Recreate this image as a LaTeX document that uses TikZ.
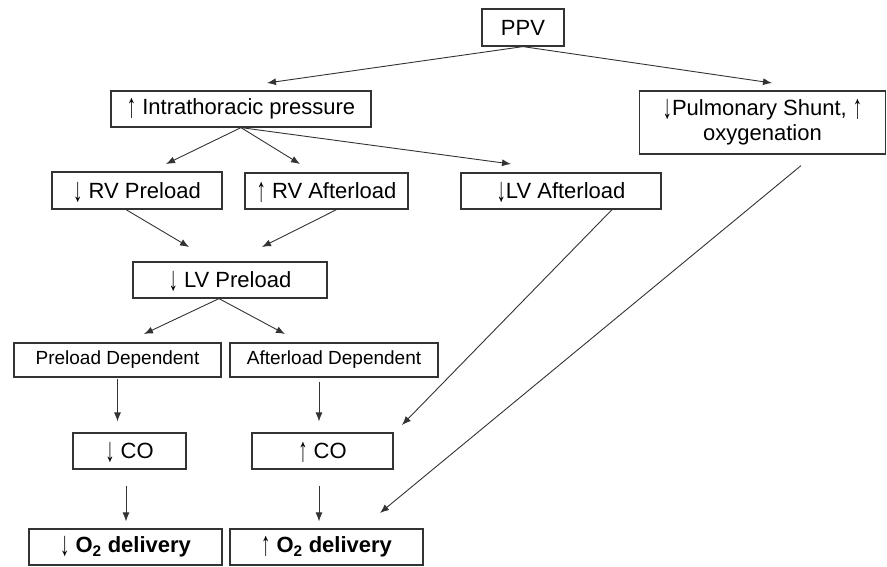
\documentclass[tikz,border=0pt]{standalone}
\usepackage{fontspec}
\setmainfont{Liberation Sans}
\usetikzlibrary{arrows.meta}
\newcommand{\uarr}{\smash{\raisebox{-3pt}{\scalebox{0.85}[1.55]{↑}}}}
\newcommand{\darr}{\smash{\raisebox{-3pt}{\scalebox{0.85}[1.55]{↓}}}}
\tikzset{
	box/.style={draw=black!80, line width=1.2pt, inner sep=0pt, align=center, font=\fontsize{22}{25}\selectfont},
	smallbox/.style={box, font=\fontsize{19}{22}\selectfont},
	flow/.style={draw=black!80, line width=0.9pt, -{Latex[length=9pt,width=7pt]}}
}
\begin{document}
\begin{tikzpicture}[x=1pt, y=-1pt]
	\useasboundingbox (0,0) rectangle (887,566);
	% boxes
	\node[box, minimum width=82, minimum height=37] (ppv) at (523,27.5) {PPV};
	\node[box, minimum width=260, minimum height=36] (itp) at (241,109) {\uarr\ Intrathoracic pressure};
	\node[box, minimum width=246, minimum height=63] (shunt) at (762.5,122.5) {\darr Pulmonary Shunt, \uarr\\oxygenation};
	\node[box, minimum width=170, minimum height=37] (rvpre) at (137,190.5) {\darr\ RV Preload};
	\node[box, minimum width=163, minimum height=36] (rvaft) at (326.5,191) {\uarr\ RV Afterload};
	\node[box, minimum width=200, minimum height=36] (lvaft) at (561,191) {\darr LV Afterload};
	\node[box, minimum width=194, minimum height=36] (lvpre) at (230,280) {\darr\ LV Preload};
	\node[smallbox, minimum width=207, minimum height=34] (pdep) at (117.5,360) {Preload Dependent};
	\node[smallbox, minimum width=208, minimum height=34] (adep) at (334,360) {Afterload Dependent};
	\node[box, minimum width=113, minimum height=36] (dco) at (129.5,451) {\darr\ CO};
	\node[box, minimum width=141, minimum height=36] (ico) at (322.5,451) {\uarr\ CO};
	\node[box, minimum width=193, minimum height=36] (do2) at (125.5,547) {\darr\ \bfseries O\textsubscript{2} delivery};
	\node[box, minimum width=193, minimum height=36] (io2) at (326.5,547) {\uarr\ \bfseries O\textsubscript{2} delivery};
	% arrow tips
	\coordinate (itpTip) at (267,83);
	\coordinate (shuntTip) at (772,83);
	\coordinate (rvpreTip) at (166,164);
	\coordinate (rvaftTip) at (300,164);
	\coordinate (lvaftTip) at (511,164);
	\coordinate (lvpreTipA) at (189,247);
	\coordinate (lvpreTipB) at (262,247);
	\coordinate (pdepTip) at (144,334);
	\coordinate (adepTip) at (285,334);
	\coordinate (icoTipA) at (402,425);
	\coordinate (io2TipA) at (380,513);
	% arrows
	\draw[flow] (ppv.south) -- (itpTip);
	\draw[flow] (ppv.south) -- (shuntTip);
	\draw[flow] (itp.south) -- (rvpreTip);
	\draw[flow] (itp.south) -- (rvaftTip);
	\draw[flow] (itp.south) -- (lvaftTip);
	\draw[flow] ([xshift=-11pt]rvpre.south) -- (lvpreTipA);
	\draw[flow] ([xshift=10pt]rvaft.south) -- (lvpreTipB);
	\draw[flow] ([xshift=-11pt]lvpre.south) -- (pdepTip);
	\draw[flow] ([xshift=-11pt]lvpre.south) -- (adepTip);
	\draw[flow] ([yshift=-1pt]pdep.south) -- ([yshift=11pt]dco.north -| pdep.south);
	\draw[flow] ([xshift=-15pt,yshift=-4pt]adep.south) -- ([xshift=-3.5pt,yshift=11pt]ico.north);
	\draw[flow] ([xshift=-3.5pt,yshift=-16pt]dco.south) -- ([xshift=0.5pt,yshift=7pt]do2.north);
	\draw[flow] ([xshift=-3.5pt,yshift=-16pt]ico.south) -- ([xshift=-7.5pt,yshift=7pt]io2.north);
	\draw[flow] ([xshift=51pt]lvaft.south) -- (icoTipA);
	\draw[flow] ([xshift=38.5pt,yshift=-11pt]shunt.south) -- (io2TipA);
\end{tikzpicture}
\end{document}
